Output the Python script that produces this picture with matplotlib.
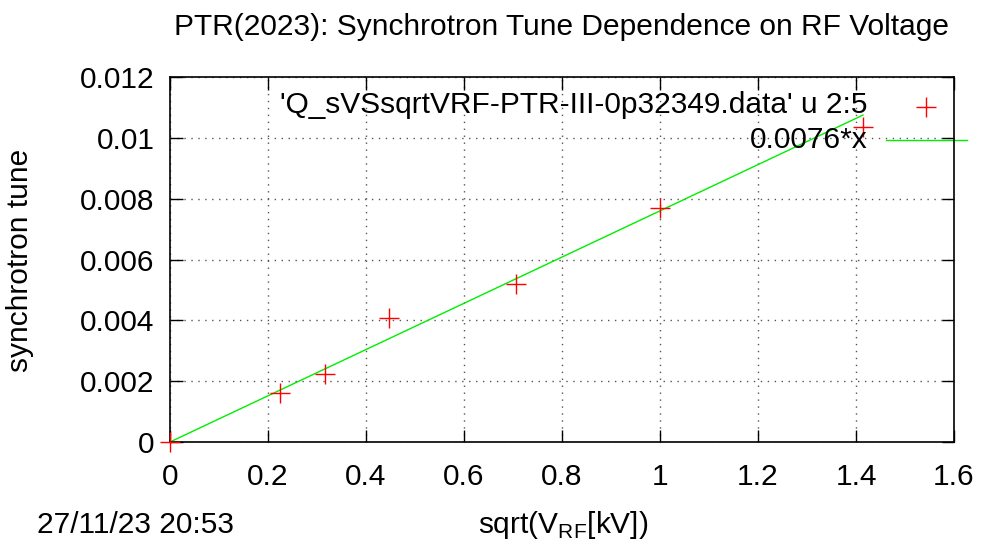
import numpy as np
import matplotlib
matplotlib.use("Agg")
import matplotlib.pyplot as plt

# data
sqrt_vrf = [0.0, 0.2236, 0.3162, 0.4472, 0.7071, 1.0, 1.4142]
q_s = [0.0, 0.00161, 0.00225, 0.00409, 0.00518, 0.00769, 0.01037]
fit_slope = 0.0076
xticks = [0, 0.2, 0.4, 0.6, 0.8, 1, 1.2, 1.4, 1.6]
yticks = [0, 0.002, 0.004, 0.006, 0.008, 0.01, 0.012]
xtick_labels = ["0", "0.2", "0.4", "0.6", "0.8", "1", "1.2", "1.4", "1.6"]
ytick_labels = ["0", "0.002", "0.004", "0.006", "0.008", "0.01", "0.012"]

plt.rcParams['font.family'] = ['Liberation Sans', 'DejaVu Sans']
FS = 21.5

fig = plt.figure(figsize=(9.81, 5.43), dpi=100)
ax = fig.add_axes([170/981, 1-442/543, (954-170)/981, (442-77)/543])

ax.plot(sqrt_vrf, q_s, linestyle='none', marker='+', color='#ff0000',
        markersize=15, markeredgewidth=1.0, clip_on=False, zorder=3)
xf = np.array([0.0, max(sqrt_vrf)])
ax.plot(xf, fit_slope*xf, color='#00ee00', lw=1.0, zorder=2)

ax.set_xlim(0, 1.6)
ax.set_ylim(0, 0.012)
ax.set_xticks(xticks)
ax.set_xticklabels(xtick_labels)
ax.set_yticks(yticks)
ax.set_yticklabels(ytick_labels)
ax.tick_params(direction='in', length=9, width=1, labelsize=FS, top=True, right=True)
ax.tick_params(axis='x', pad=15)
ax.tick_params(axis='y', pad=11)
ax.grid(True, linestyle=(0, (1, 4)), color='#555555', lw=1)
for s in ax.spines.values():
    s.set_linewidth(1.2)

ax.set_title("PTR(2023): Synchrotron Tune Dependence on RF Voltage", fontsize=FS, pad=30)
fig.text(563/981, 1-525/543, r"sqrt(V$_{\mathregular{RF}}$[kV])", fontsize=FS, ha='center', va='center')
fig.text(20/981, 1-260/543, "synchrotron tune", fontsize=FS, rotation=90, ha='center', va='center')
fig.text(37/981, 1-525/543, "27/11/23 20:53", fontsize=FS, ha='left', va='center')

# legend, gnuplot style
fig.text(868/981, 1-105/543, "'Q_sVSsqrtVRF-PTR-III-0p32349.data' u 2:5", fontsize=FS,
         ha='right', va='center')
fig.text(868/981, 1-140/543, "0.0076*x", fontsize=FS, ha='right', va='center')
ax.plot([926/981], [1-107/543], marker='+', color='#ff0000', markersize=15,
        markeredgewidth=1.0, transform=fig.transFigure, clip_on=False)
ax.plot([886/981, 967/981], [1-140/543, 1-140/543], color='#00ee00', lw=1.0,
        transform=fig.transFigure, clip_on=False)

fig.savefig("out.png", dpi=100)
